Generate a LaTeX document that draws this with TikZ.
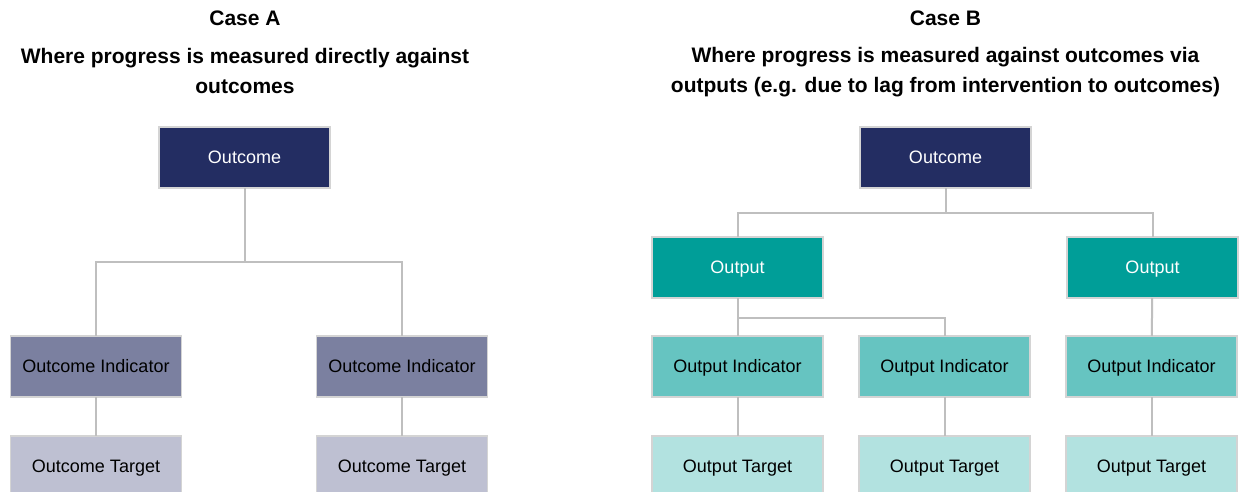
\documentclass[tikz,border=0pt]{standalone}
\usepackage{fontspec}
\setmainfont{Liberation Sans}
\usetikzlibrary{positioning}
\definecolor{navy}{HTML}{232D62}
\definecolor{navymid}{HTML}{7B80A0}
\definecolor{navylite}{HTML}{BEC0D2}
\definecolor{teal}{HTML}{009E98}
\definecolor{tealmid}{HTML}{66C4C1}
\definecolor{teallite}{HTML}{B2E2E0}
\definecolor{edgegray}{HTML}{D4D4D4}
\definecolor{linkgray}{HTML}{BFBFBF}
\tikzset{
  blk/.style={draw=edgegray,rectangle,line width=1.5pt,minimum width=171pt,minimum height=61pt,
    inner sep=0pt,outer sep=0pt,text height=12.9pt,text depth=0pt,font=\fontsize{18}{20}\selectfont},
  topblk/.style={blk,fill=navy,text=white},
  oindblk/.style={blk,fill=navymid},
  otgtblk/.style={blk,fill=navylite},
  outblk/.style={blk,fill=teal,text=white},
  pindblk/.style={blk,fill=tealmid},
  ptgtblk/.style={blk,fill=teallite},
  link/.style={draw=linkgray,line width=2pt},
  ttl/.style={font=\fontsize{21}{30}\selectfont\bfseries,align=center}
}
\begin{document}
\begin{tikzpicture}[x=1pt,y=-1pt]
  \useasboundingbox[fill=white] (0,0) rectangle (1242,492);

  % Case A: outcome measured directly
  \node[ttl] (acase) at (245,18) {Case A};
  \node[ttl] (asub) at (245,71) {Where progress is measured directly against\\outcomes};

  \node[topblk] (aout) at (244.5,157.5) {Outcome};
  \node[oindblk] (aind1) at (96,366.5) {Outcome Indicator};
  \node[oindblk, right=135pt of aind1] (aind2) {Outcome Indicator};
  \node[otgtblk, below=39pt of aind1] (atgt1) {Outcome Target};
  \node[otgtblk, below=39pt of aind2] (atgt2) {Outcome Target};

  \coordinate (ajoin) at (244.5,262);
  \draw[link] (aout) -- (ajoin) -| (aind1);
  \draw[link] (ajoin) -| (aind2);
  \draw[link] (aind1) -- (atgt1);
  \draw[link] (aind2) -- (atgt2);

  % Case B: outcome reached via outputs
  \node[ttl] (bcase) at (945.5,18) {Case B};
  \node[ttl] (bsub) at (945.5,72) {Where progress is measured against outcomes via\\outputs (e.g. due to lag from intervention to outcomes)};

  \node[topblk] (bout) at (945.5,157.5) {Outcome};
  \node[outblk] (bput1) at (737.5,267.5) {Output};
  \node[outblk, right=244pt of bput1] (bput2) {Output};
  \node[pindblk, below=38pt of bput1] (bind1) {Output Indicator};
  \node[pindblk, right=36pt of bind1] (bind2) {Output Indicator};
  \node[pindblk, right=36pt of bind2] (bind3) {Output Indicator};
  \node[ptgtblk, below=39pt of bind1] (btgt1) {Output Target};
  \node[ptgtblk, below=39pt of bind2] (btgt2) {Output Target};
  \node[ptgtblk, below=39pt of bind3] (btgt3) {Output Target};

  \coordinate (bjoin) at (945.5,213);
  \coordinate (bsplit) at (737.5,318);
  \draw[link] (bout) -- (bjoin) -| (bput1);
  \draw[link] (bjoin) -| (bput2);
  \draw[link] (bput1) -- (bind1);
  \draw[link] (bsplit) -| (bind2);
  \draw[link] (bput2) -- (bind3);
  \draw[link] (bind1) -- (btgt1);
  \draw[link] (bind2) -- (btgt2);
  \draw[link] (bind3) -- (btgt3);
\end{tikzpicture}
\end{document}
